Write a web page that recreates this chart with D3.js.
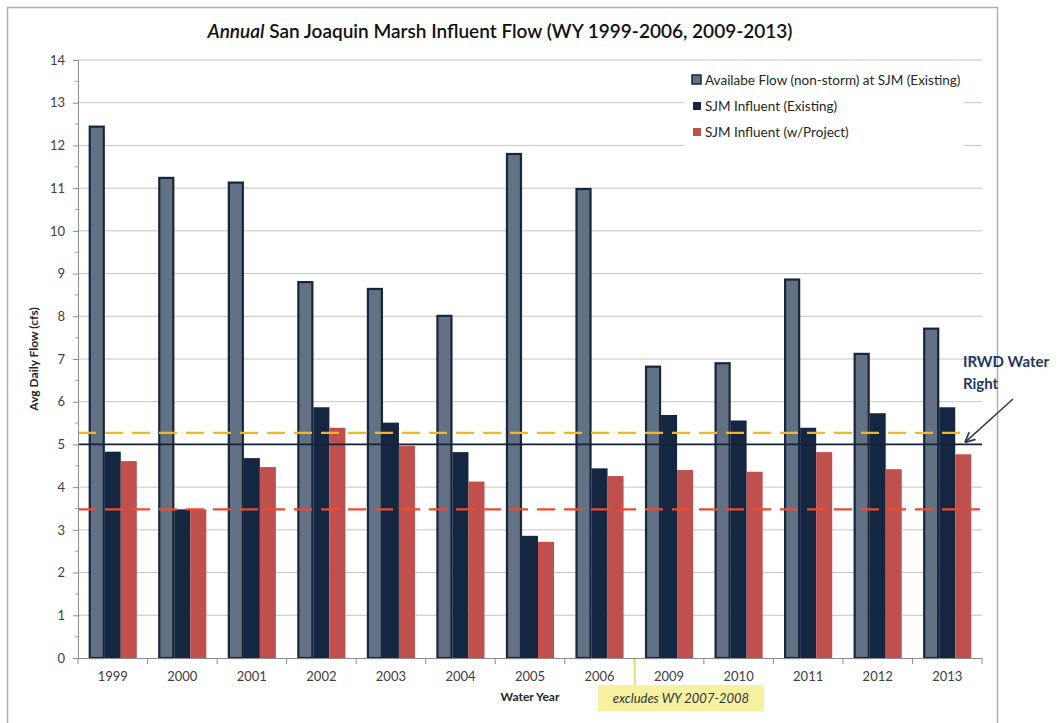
<!DOCTYPE html>
<html><head><meta charset="utf-8">
<script src="https://cdn.jsdelivr.net/npm/d3@7/dist/d3.min.js"></script>
<style>body{margin:0;background:#fff;} svg{display:block;font-family:Lato,"Open Sans",sans-serif;}</style>
</head><body><svg id="c" width="1063" height="723"></svg>
<script>
const years = ["1999","2000","2001","2002","2003","2004","2005","2006","2009","2010","2011","2012","2013"];
const availableFlow = [12.44,11.24,11.13,8.80,8.64,8.01,11.80,10.98,6.82,6.90,8.86,7.12,7.71];
const influentExisting = [4.83,3.48,4.68,5.87,5.51,4.82,2.86,4.44,5.69,5.56,5.39,5.73,5.87];
const influentProject = [4.61,3.48,4.47,5.39,4.97,4.13,2.72,4.26,4.40,4.36,4.82,4.42,4.77];
const seriesNames = ["Availabe Flow (non-storm) at SJM (Existing)","SJM Influent (Existing)","SJM Influent (w/Project)"];
const yTicks = [0,1,2,3,4,5,6,7,8,9,10,11,12,13,14];
const waterRight = 5.0, upperDashed = 5.27, lowerDashed = 3.48;

const svg = d3.select("#c");
const L = 78, R = 982, T = 60, B = 658;

// outer border
svg.append("rect").attr("x",7.5).attr("y",7.5).attr("width",990).attr("height",720)
  .attr("fill","#fff").attr("stroke","#b0b0b0").attr("stroke-width",1.5);

const y = d3.scaleLinear().domain([0,14]).range([B,T]);
const x0 = d3.scaleBand().domain(years).range([L,R]).paddingInner(0).paddingOuter(0);
const x1 = d3.scaleBand().domain([0,1,2]).range([0,x0.bandwidth()]).paddingInner(0).paddingOuter(0.67);

// gridlines
svg.append("g").selectAll("line").data(yTicks.filter(d=>d>0)).join("line")
  .attr("x1",L).attr("x2",R).attr("y1",d=>y(d)).attr("y2",d=>y(d))
  .attr("stroke","#c4c4c4").attr("stroke-width",1);

// legend box (covers gridlines)
const lg = svg.append("g");
lg.append("rect").attr("x",684).attr("y",64).attr("width",280).attr("height",83).attr("fill","#fff");
const legY = d3.scaleBand().domain([0,1,2]).range([67,145]);
const legColors = [["#637184","#17263f"],["#142640","none"],["#c0504d","none"]];
seriesNames.forEach((n,i)=>{
  const cy = legY(i)+legY.bandwidth()/2;
  lg.append("rect").attr("x",i===0?692:693).attr("y",cy-(i===0?5:4)).attr("width",i===0?9:8).attr("height",i===0?9:8)
    .attr("fill",legColors[i][0]).attr("stroke",legColors[i][1]).attr("stroke-width",1.5);
  lg.append("text").attr("x",705).attr("y",cy+4.5).attr("font-size",13.5).attr("fill","#262626").text(n);
});

// bars
const data = years.map((yr,i)=>({yr, v:[availableFlow[i],influentExisting[i],influentProject[i]]}));
const g = svg.append("g");
const grp = g.selectAll("g").data(data).join("g").attr("transform",d=>`translate(${x0(d.yr)},0)`);
grp.append("rect").attr("x",x1(0)+1).attr("width",x1.bandwidth()-2)
  .attr("y",d=>y(d.v[0])).attr("height",d=>B-y(d.v[0]))
  .attr("fill","#637184").attr("stroke","#17263f").attr("stroke-width",2.2);
grp.append("rect").attr("x",x1(1)).attr("width",x1.bandwidth())
  .attr("y",d=>y(d.v[1])).attr("height",d=>B-y(d.v[1])).attr("fill","#142640");
grp.append("rect").attr("x",x1(2)).attr("width",x1.bandwidth())
  .attr("y",d=>y(d.v[2])).attr("height",d=>B-y(d.v[2])).attr("fill","#c0504d");

// reference lines
svg.append("line").attr("x1",L).attr("x2",966).attr("y1",y(upperDashed)).attr("y2",y(upperDashed))
  .attr("stroke","#f2b81d").attr("stroke-width",2.2).attr("stroke-dasharray","18,9");
svg.append("line").attr("x1",L).attr("x2",980).attr("y1",y(lowerDashed)).attr("y2",y(lowerDashed))
  .attr("stroke","#ee4a2c").attr("stroke-width",2.2).attr("stroke-dasharray","18,9");
svg.append("line").attr("x1",L).attr("x2",R).attr("y1",y(waterRight)).attr("y2",y(waterRight))
  .attr("stroke","#14233b").attr("stroke-width",1.8);

// y axis
const ya = svg.append("g").attr("transform",`translate(${L},0)`)
  .call(d3.axisLeft(y).tickValues(yTicks).tickSize(5).tickPadding(8).tickFormat(d3.format("d")));
ya.select(".domain").attr("stroke","#8c8c8c");
ya.selectAll(".tick line").attr("stroke","#8c8c8c");
ya.selectAll("text").attr("font-size",13).attr("fill","#404040").attr("font-family","Lato,sans-serif");
const minor = d3.range(0.5,14,1);
svg.append("g").selectAll("line").data(minor).join("line")
  .attr("x1",L-3).attr("x2",L).attr("y1",d=>y(d)).attr("y2",d=>y(d)).attr("stroke","#a0a0a0");

// x axis
svg.append("line").attr("x1",L).attr("x2",R).attr("y1",B+0.5).attr("y2",B+0.5).attr("stroke","#8c8c8c");
svg.append("g").selectAll("line").data(years.concat(["end"])).join("line")
  .attr("x1",d=>d==="end"?R:x0(d)).attr("x2",d=>d==="end"?R:x0(d))
  .attr("y1",B).attr("y2",B+6).attr("stroke","#8c8c8c");
svg.append("g").selectAll("text").data(years).join("text")
  .attr("x",d=>x0(d)+x0.bandwidth()/2).attr("y",B+23).attr("text-anchor","middle")
  .attr("font-size",13).attr("fill","#404040").text(d=>d);

// axis titles
svg.append("text").attr("transform",`translate(38,${(T+B)/2}) rotate(-90)`).attr("text-anchor","middle")
  .attr("font-size",12).attr("font-weight","bold").attr("fill","#262626").text("Avg Daily Flow (cfs)");
svg.append("text").attr("x",530).attr("y",701).attr("text-anchor","middle")
  .attr("font-size",12).attr("font-weight","bold").attr("fill","#262626").text("Water Year");

// title
const tt = svg.append("text").attr("x",500).attr("y",38).attr("text-anchor","middle")
  .attr("font-size",19).attr("fill","#111").attr("font-weight","600");
tt.append("tspan").attr("font-style","italic").text("Annual");
tt.append("tspan").text(" San Joaquin Marsh Influent Flow (WY 1999-2006, 2009-2013)");

// excludes note
const gapX = (x0("2006")+x0.bandwidth()+x0("2009"))/2;
svg.append("line").attr("x1",gapX+0.5).attr("x2",gapX+0.5).attr("y1",B+2).attr("y2",686).attr("stroke","#e6e07a").attr("stroke-width",2);
svg.append("rect").attr("x",598).attr("y",685).attr("width",166).attr("height",26).attr("fill","#f6f2a2");
svg.append("text").attr("x",681).attr("y",703).attr("text-anchor","middle").attr("font-size",13)
  .attr("font-style","italic").attr("fill","#333").text("excludes WY 2007-2008");

// IRWD annotation
svg.append("text").attr("x",963).attr("y",367).attr("font-size",15).attr("font-weight","bold").attr("fill","#1f3864").text("IRWD Water");
svg.append("text").attr("x",963).attr("y",389).attr("font-size",15).attr("font-weight","bold").attr("fill","#1f3864").text("Right");
const ax1 = 1013, ay1 = 399, ax2 = 965, ay2 = y(waterRight)-2;
svg.append("line").attr("x1",ax1).attr("y1",ay1).attr("x2",ax2).attr("y2",ay2).attr("stroke","#2d3b52").attr("stroke-width",1.5);
const ang = Math.atan2(ay1-ay2, ax1-ax2);
const hl = 11;
[0.45,-0.45].forEach(da=>{
  svg.append("line").attr("x1",ax2).attr("y1",ay2)
    .attr("x2",ax2+hl*Math.cos(ang+da)).attr("y2",ay2+hl*Math.sin(ang+da))
    .attr("stroke","#2d3b52").attr("stroke-width",1.8);
});
</script></body></html>
